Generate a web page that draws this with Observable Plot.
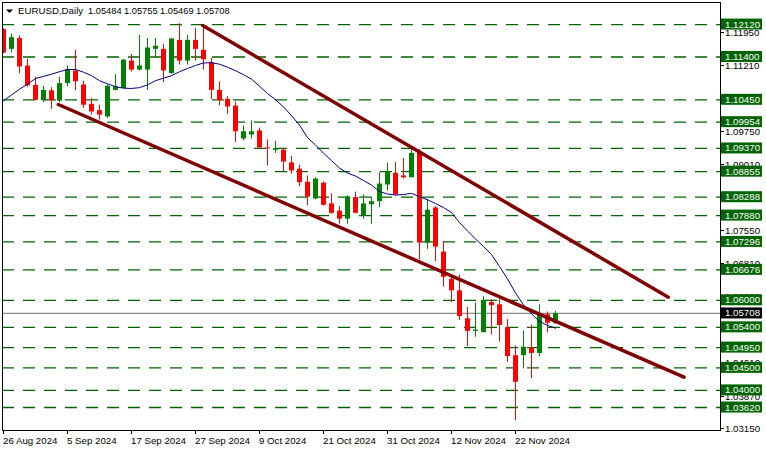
<!DOCTYPE html>
<html><head><meta charset="utf-8">
<script src="https://cdn.jsdelivr.net/npm/d3@7"></script>
<script src="https://cdn.jsdelivr.net/npm/@observablehq/plot@0.6"></script>
<style>
html,body{margin:0;padding:0;background:#fff;}
#chart{width:766px;height:452px;overflow:hidden;}
svg{display:block;}
</style></head><body><div id="chart"></div>
<script>
// ---------------- data ----------------
const symbolTitle = "EURUSD,Daily";
const lastOHLC = ["1.05484", "1.05755", "1.05469", "1.05708"];

const dates = [
"2024-08-26","2024-08-27","2024-08-28","2024-08-29","2024-08-30",
"2024-09-02","2024-09-03","2024-09-04","2024-09-05","2024-09-06",
"2024-09-09","2024-09-10","2024-09-11","2024-09-12","2024-09-13",
"2024-09-16","2024-09-17","2024-09-18","2024-09-19","2024-09-20",
"2024-09-23","2024-09-24","2024-09-25","2024-09-26","2024-09-27",
"2024-09-30","2024-10-01","2024-10-02","2024-10-03","2024-10-04",
"2024-10-07","2024-10-08","2024-10-09","2024-10-10","2024-10-11",
"2024-10-14","2024-10-15","2024-10-16","2024-10-17","2024-10-18",
"2024-10-21","2024-10-22","2024-10-23","2024-10-24","2024-10-25",
"2024-10-28","2024-10-29","2024-10-30","2024-10-31","2024-11-01",
"2024-11-04","2024-11-05","2024-11-06","2024-11-07","2024-11-08",
"2024-11-11","2024-11-12","2024-11-13","2024-11-14","2024-11-15",
"2024-11-18","2024-11-19","2024-11-20","2024-11-21","2024-11-22",
"2024-11-25","2024-11-26","2024-11-27","2024-11-28","2024-11-29"];

const open = [
1.1201,1.1157,1.1181,1.1120,1.1077,1.1043,1.1065,1.1042,1.1081,1.1109,
1.1078,1.1035,1.1021,1.1007,1.1066,1.1070,1.1131,1.1111,1.1111,1.1157,
1.1157,1.1103,1.1177,1.1131,1.1177,1.1155,1.1127,1.1066,1.1046,1.1031,
1.0958,1.0967,1.0976,1.0938,1.0933,1.0933,1.0905,1.0891,1.0862,1.0825,
1.0860,1.0814,1.0798,1.0780,1.0828,1.0788,1.0812,1.0819,1.0856,1.0882,
1.0876,1.0872,1.0930,1.0727,1.0805,1.0707,1.0647,1.0621,1.0559,1.0531,
1.0528,1.0595,1.0590,1.0539,1.0477,1.0477,1.0494,1.0482,1.0568,1.05484];
const high = [
1.1203,1.1191,1.1187,1.1135,1.1095,1.1075,1.1072,1.1095,1.1120,1.1155,
1.1086,1.1048,1.1033,1.1078,1.1101,1.1135,1.1146,1.1188,1.1181,1.1181,
1.1168,1.1181,1.1214,1.1188,1.1203,1.1210,1.1137,1.1085,1.1052,1.1040,
1.0987,1.0998,1.0982,1.0956,1.0953,1.0937,1.0919,1.0900,1.0876,1.0872,
1.0863,1.0836,1.0808,1.0832,1.0840,1.0834,1.0829,1.0883,1.0904,1.0906,
1.0915,1.0935,1.0935,1.0824,1.0808,1.0730,1.0655,1.0656,1.0584,1.0594,
1.0608,1.0602,1.0601,1.0557,1.0499,1.0532,1.0545,1.0590,1.0574,1.05755];
const low = [
1.1147,1.1149,1.1103,1.1073,1.1043,1.1039,1.1024,1.1039,1.1074,1.1065,
1.1026,1.1011,1.1000,1.1004,1.1065,1.1070,1.1107,1.1109,1.1066,1.1138,
1.1083,1.1102,1.1122,1.1122,1.1131,1.1111,1.1046,1.1032,1.1013,1.0950,
1.0954,1.0958,1.0938,1.0898,1.0926,1.0885,1.0880,1.0852,1.0810,1.0823,
1.0809,1.0791,1.0769,1.0769,1.0792,1.0780,1.0769,1.0806,1.0843,1.0832,
1.0869,1.0872,1.0690,1.0713,1.0686,1.0629,1.0595,1.0555,1.0497,1.0518,
1.0528,1.0523,1.0507,1.0462,1.0333,1.0448,1.0426,1.0475,1.0528,1.05469];
const close = [
1.1149,1.1183,1.1118,1.1076,1.1044,1.1066,1.1043,1.1081,1.1112,1.1085,
1.1033,1.1018,1.1011,1.1075,1.1074,1.1133,1.1111,1.1120,1.1160,1.1164,
1.1109,1.1180,1.1131,1.1177,1.1157,1.1134,1.1066,1.1043,1.1029,1.0974,
1.0974,1.0974,1.0938,1.0936,1.0937,1.0907,1.0887,1.0861,1.0829,1.0869,
1.0811,1.0793,1.0780,1.0829,1.0793,1.0814,1.0819,1.0858,1.0885,1.0834,
1.0872,1.0926,1.0727,1.0800,1.0718,1.0651,1.0621,1.0564,1.0531,1.0534,
1.0600,1.0588,1.0544,1.0475,1.0418,1.0496,1.0482,1.0568,1.0549,1.05708];
// moving average line (navy), one value per bar
const maValues = [
1.10427,1.10558,1.10686,1.10797,1.10924,1.10970,1.11019,1.11074,1.11123,1.11123,
1.11063,1.10986,1.10875,1.10804,1.10742,1.10709,1.10702,1.10720,1.10782,1.10875,
1.10930,1.10986,1.11074,1.11145,1.11212,1.11269,1.11274,1.11241,1.11174,1.11096,
1.11008,1.10908,1.10753,1.10587,1.10454,1.10294,1.10099,1.09888,1.09611,1.09445,
1.09267,1.09101,1.08935,1.08824,1.08758,1.08658,1.08558,1.08414,1.08359,1.08336,
1.08347,1.08374,1.08299,1.08232,1.08148,1.08059,1.07948,1.07727,1.07538,1.07361,
1.07195,1.07017,1.06751,1.06474,1.06164,1.05898,1.05698,1.05532,1.05443,1.05381];

// horizontal support / resistance levels (green dashed)
const levels = [1.12120,1.11400,1.10450,1.09954,1.09370,1.08855,1.08288,1.07880,
                1.07296,1.06676,1.06000,1.05400,1.04950,1.04500,1.04000,1.03620];
const bidPrice = 1.05708;

// trend channel anchors (bar index, price)
const upperTrendBar = [24.9, 83.1];
const upperTrendPrice = [1.12100, 1.06069];
const lowerTrendBar = [6.85, 85.06];
const lowerTrendPrice = [1.10346, 1.04293];

// visible axis tick labels of the price scale
const priceTickLabels = ["1.11950","1.11210","1.09750","1.09010","1.07550",
                         "1.06810","1.06080","1.04610","1.03870","1.03150"];
const dateTickLabels = ["26 Aug 2024","5 Sep 2024","17 Sep 2024","27 Sep 2024","9 Oct 2024",
                        "21 Oct 2024","31 Oct 2024","12 Nov 2024","22 Nov 2024"];
const dateTickDates = ["2024-08-26","2024-09-05","2024-09-17","2024-09-27","2024-10-09",
                       "2024-10-21","2024-10-31","2024-11-12","2024-11-22"];

// ---------------- build ----------------
const W = 766, H = 452, FL = 2, FR = 720, FT = 2, FB = 430;
const FONT = "'Liberation Sans', Arial, sans-serif";
const BULL = "#008000", BEAR = "#ff0000", LEVEL = "#006400";

const candles = dates.map((d, i) => ({
  i, date: d, o: open[i], h: high[i], l: low[i], c: close[i], ma: maValues[i],
  col: close[i] >= open[i] ? BULL : BEAR
}));
const upperRows = upperTrendBar.map((b, k) => ({i: b, p: upperTrendPrice[k]}));
const lowerRows = lowerTrendBar.map((b, k) => ({i: b, p: lowerTrendPrice[k]}));
const barIndex = Object.fromEntries(dates.map((d, i) => [d, i]));

function overlay(index, scales) {
  const x = scales.x, y = scales.y;
  const g = d3.create("svg:g").attr("font-family", FONT).attr("font-size", 9.7)
    .attr("text-anchor", "start");
  // right price scale
  priceTickLabels.forEach(t => {
    const yy = Math.round(y(+t));
    g.append("line").attr("x1", FR).attr("x2", FR + 4).attr("y1", yy + 0.5).attr("y2", yy + 0.5)
      .attr("stroke", "#000");
    g.append("text").attr("x", FR + 5).attr("y", yy + 0.5).attr("dy", "0.36em")
      .attr("fill", "#000").text(t);
  });
  levels.forEach(v => {
    const yy = y(v);
    g.append("rect").attr("x", FR + 1).attr("y", yy - 5.5).attr("width", 41).attr("height", 11)
      .attr("fill", LEVEL);
    g.append("text").attr("x", FR + 5).attr("y", yy).attr("dy", "0.36em")
      .attr("fill", "#fff").text(v.toFixed(5));
  });
  {
    const yy = y(bidPrice);
    g.append("rect").attr("x", FR + 1).attr("y", yy - 5.5).attr("width", 41).attr("height", 11)
      .attr("fill", "#000");
    g.append("text").attr("x", FR + 5).attr("y", yy).attr("dy", "0.36em")
      .attr("fill", "#fff").text(bidPrice.toFixed(5));
  }
  // bottom time scale
  dateTickDates.forEach((d, k) => {
    const xx = Math.round(x(barIndex[d]));
    g.append("line").attr("x1", xx + 0.5).attr("x2", xx + 0.5).attr("y1", FB).attr("y2", FB + 4)
      .attr("stroke", "#000");
    g.append("text").attr("x", xx).attr("y", 444).attr("fill", "#000").text(dateTickLabels[k]);
  });
  // header
  g.append("path").attr("d", "M6,9.5 L13,9.5 L9.5,13 Z").attr("fill", "#000");
  g.append("text").attr("x", 18).attr("y", 14).attr("fill", "#000").text(symbolTitle);
  lastOHLC.forEach((t, k) => {
    g.append("text").attr("x", 88 + 36 * k).attr("y", 14).attr("fill", "#000")
      .attr("font-size", 9.3).text(t);
  });
  return g.node();
}

const chart = Plot.plot({
  width: W, height: H,
  marginLeft: FL, marginRight: W - FR, marginTop: FT, marginBottom: H - FB,
  x: {type: "linear", domain: [-0.125, 89.625], range: [FL, FR], axis: null},
  y: {type: "linear", domain: [1.0311, 1.1261], range: [FB, FT], axis: null},
  color: {type: "identity"},
  style: {background: "#fff", fontFamily: FONT, overflow: "visible"},
  marks: [
    Plot.ruleY(levels, {y: d => d, stroke: LEVEL, strokeWidth: 1.3, strokeDasharray: "12,9"}),
    Plot.ruleY([bidPrice], {y: d => d, stroke: "#8c8c8c", strokeWidth: 1.3}),
    Plot.ruleX(candles, {x: "i", y1: "l", y2: "h", stroke: "col", strokeWidth: 1, clip: true}),
    Plot.ruleX(candles, {x: "i", y1: "o", y2: "c", stroke: "col", strokeWidth: 5, strokeLinecap: "butt", clip: true}),
    Plot.line(candles, {x: "i", y: "ma", stroke: "#000080", strokeWidth: 1, clip: true}),
    Plot.line(upperRows, {x: "i", y: "p", stroke: "#800000", strokeWidth: 3.5}),
    Plot.line(lowerRows, {x: "i", y: "p", stroke: "#800000", strokeWidth: 3.5}),
    Plot.frame({stroke: "#000"}),
    overlay
  ]
});
document.getElementById("chart").appendChild(chart);
</script>
</body></html>
